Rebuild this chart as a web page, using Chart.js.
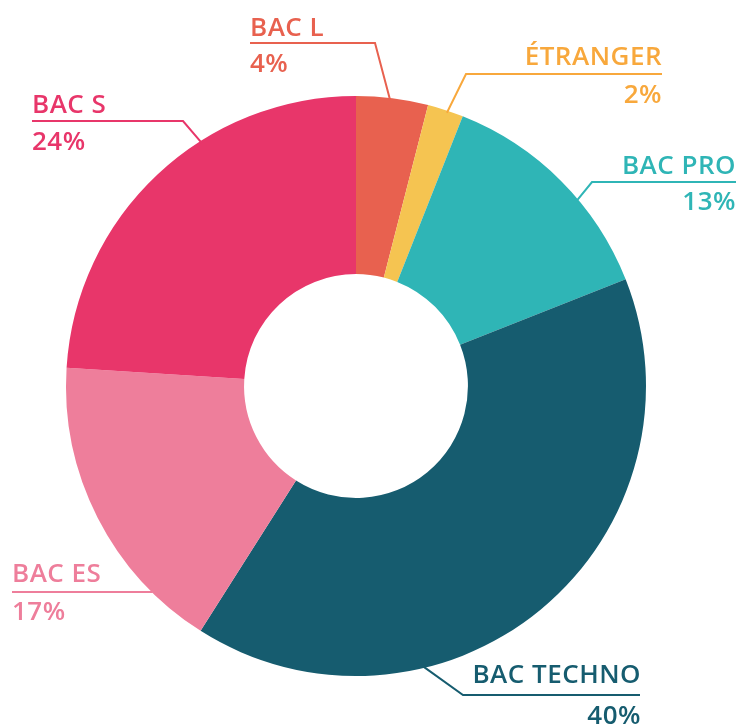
<!DOCTYPE html>
<html>
<head>
<meta charset="utf-8">
<script src="https://cdn.jsdelivr.net/npm/chart.js@4.4.1/dist/chart.umd.min.js"></script>
<style>
  html, body { margin: 0; padding: 0; background: #fff; }
  #wrap { width: 736px; height: 727px; }
</style>
</head>
<body>
<div id="wrap"><canvas id="donut" width="736" height="727"></canvas></div>
<script>
// data
const labels = ['BAC L', 'ÉTRANGER', 'BAC PRO', 'BAC TECHNO', 'BAC ES', 'BAC S'];
const values = [4, 2, 13, 40, 17, 24];
const sliceColors = ['#E8614F', '#F5C451', '#2FB5B6', '#165C6F', '#EE7E9B', '#E8366A'];
const textColors = ['#E8614F', '#F8A83C', '#2FB5B6', '#165C6F', '#EE7E9B', '#E8366A'];

// label placement (x of text, baselines, leader line, angle where it meets the ring)
const labelLayout = [
  { align: 'left',  x: 250, nameY: 36,  lineY: 43,  lineFrom: 250, elbow: 375, pctY: 72,  angle: 6.8 },
  { align: 'right', x: 662, nameY: 65,  lineY: 74,  lineFrom: 662, elbow: 466, pctY: 103, angle: 18.4 },
  { align: 'right', x: 736, nameY: 174, lineY: 182, lineFrom: 736, elbow: 592, pctY: 210, angle: 50 },
  { align: 'right', x: 641, nameY: 683, lineY: 695, lineFrom: 640, elbow: 463, pctY: 724, angle: 166.6 },
  { align: 'left',  x: 12,  nameY: 582, lineY: 592, lineFrom: 12,  elbow: 152, pctY: 620, angle: 224.7 },
  { align: 'left',  x: 32,  nameY: 113, lineY: 121, lineFrom: 32,  elbow: 183, pctY: 150, angle: 327.6 }
];

const calloutPlugin = {
  id: 'callouts',
  afterDatasetsDraw(chart) {
    const ctx = chart.ctx;
    const arc = chart.getDatasetMeta(0).data[0];
    const cx = arc.x, cy = arc.y, r = arc.outerRadius - 2;
    ctx.save();
    ctx.font = '600 26px "Open Sans", Lato, sans-serif';
    ctx.letterSpacing = '0.5px';
    ctx.lineWidth = 2;
    labels.forEach((name, i) => {
      const L = labelLayout[i];
      const a = L.angle * Math.PI / 180;
      const ex = cx + r * Math.sin(a), ey = cy - r * Math.cos(a);
      ctx.strokeStyle = textColors[i];
      ctx.beginPath();
      ctx.moveTo(L.lineFrom, L.lineY);
      ctx.lineTo(L.elbow, L.lineY);
      ctx.lineTo(ex, ey);
      ctx.stroke();
      ctx.fillStyle = textColors[i];
      ctx.textAlign = L.align;
      ctx.textBaseline = 'alphabetic';
      ctx.fillText(name, L.x, L.nameY);
      ctx.fillText(values[i] + '%', L.x, L.pctY);
    });
    ctx.restore();
  }
};

document.addEventListener('DOMContentLoaded', e => {
  let ctx = document.getElementById('donut');
  new Chart(ctx, {
    type: 'doughnut',
    data: {
      labels: labels,
      datasets: [{
        data: values,
        backgroundColor: sliceColors,
        borderWidth: 0
      }]
    },
    options: {
      responsive: false,
      animation: false,
      cutout: '38.6%',
      layout: { padding: { left: 66, right: 90, top: 96, bottom: 51 } },
      plugins: {
        legend: { display: false },
        tooltip: { enabled: false }
      }
    },
    plugins: [calloutPlugin]
  });
});
</script>
</body>
</html>
